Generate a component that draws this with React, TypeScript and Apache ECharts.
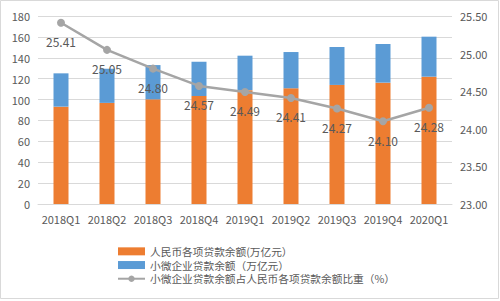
import React, { useEffect, useRef } from "react";
import * as echarts from "echarts";

// Quarterly loan balances (万亿元) and the small/micro share (%)
const quarters = ["2018Q1", "2018Q2", "2018Q3", "2018Q4", "2019Q1", "2019Q2", "2019Q3", "2019Q4", "2020Q1"];
const rmbLoans = [93.2, 96.8, 100.2, 103.4, 109.0, 110.8, 114.0, 116.2, 121.9];
const smallMicroLoans = [31.9, 32.7, 32.8, 32.8, 33.0, 34.7, 36.3, 37.0, 38.3];
const smallMicroShare = [25.41, 25.05, 24.8, 24.57, 24.49, 24.41, 24.27, 24.1, 24.28];

const leftTicks = { min: 0, max: 180, interval: 20 };
const rightTicks = { min: 23, max: 25.5, interval: 0.5 };

const seriesNames = [
  "人民币各项贷款余额(万亿元）",
  "小微企业贷款余额（万亿元）",
  "小微企业贷款余额占人民币各项贷款余额比重（%）",
];

const textColor = "#595959";
const gridColor = "#d9d9d9";
const font = "'Noto Sans CJK SC', 'Noto Sans', sans-serif";

export default function App() {
  const ref = useRef<HTMLDivElement>(null);

  useEffect(() => {
    document.body.style.margin = "0";
    if (!ref.current) return;
    const chart = echarts.init(ref.current, undefined, { renderer: "svg" });
    chart.setOption({
      animation: false,
      textStyle: { fontFamily: font, color: textColor },
      color: ["#ED7D31", "#5B9BD5", "#A5A5A5"],
      grid: { left: 38, right: 48, top: 16, bottom: 97 },
      graphic: [
        {
          type: "rect",
          shape: { x: 0.5, y: 0.5, width: 498, height: 298 },
          style: { fill: "none", stroke: gridColor, lineWidth: 1 },
          silent: true,
        },
      ],
      legend: {
        orient: "vertical",
        left: 112,
        top: 241,
        itemWidth: 27,
        itemHeight: 8,
        itemGap: 3,
        textStyle: { fontSize: 10.7, color: textColor, fontFamily: font },
        data: [
          { name: seriesNames[0], icon: "rect" },
          { name: seriesNames[1], icon: "rect" },
          { name: seriesNames[2] },
        ],
      },
      xAxis: {
        type: "category",
        data: quarters,
        axisLine: { show: true, lineStyle: { color: gridColor } },
        axisTick: { show: false },
        axisLabel: { color: textColor, fontSize: 11, margin: 9, fontFamily: font, interval: 0 },
      },
      yAxis: [
        {
          type: "value",
          ...leftTicks,
          axisLine: { show: false },
          axisTick: { show: false },
          splitLine: { lineStyle: { color: gridColor } },
          axisLabel: { color: textColor, fontSize: 11, margin: 8, fontFamily: font },
        },
        {
          type: "value",
          ...rightTicks,
          position: "right",
          axisLine: { show: false },
          axisTick: { show: false },
          splitLine: { show: false },
          axisLabel: {
            color: textColor,
            fontSize: 11,
            margin: 8,
            fontFamily: font,
            formatter: (v: number) => v.toFixed(2),
          },
        },
      ],
      series: [
        {
          name: seriesNames[0],
          type: "bar",
          stack: "loans",
          barWidth: 15,
          data: rmbLoans,
          itemStyle: { color: "#ED7D31" },
        },
        {
          name: seriesNames[1],
          type: "bar",
          stack: "loans",
          barWidth: 15,
          data: smallMicroLoans,
          itemStyle: { color: "#5B9BD5" },
        },
        {
          name: seriesNames[2],
          type: "line",
          yAxisIndex: 1,
          data: smallMicroShare,
          symbol: "circle",
          symbolSize: 8,
          lineStyle: { color: "#A5A5A5", width: 2.5 },
          itemStyle: { color: "#A5A5A5" },
          label: {
            show: true,
            position: "bottom",
            distance: 9,
            color: textColor,
            fontSize: 12,
            fontFamily: font,
            formatter: (p: any) => Number(p.value).toFixed(2),
          },
        },
      ],
    });
    return () => chart.dispose();
  }, []);

  return <div ref={ref} style={{ width: 500, height: 301 }} />;
}
